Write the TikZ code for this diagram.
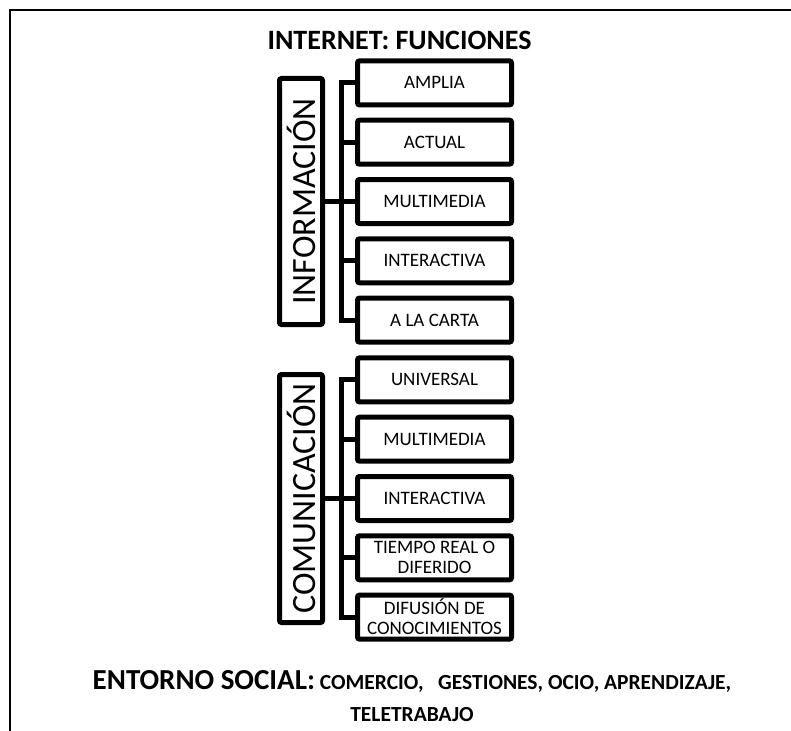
\documentclass[tikz,border=0pt]{standalone}
\usepackage{fontspec}
\usepackage{graphicx}
\setmainfont{Carlito}
\begin{document}
\begin{tikzpicture}[x=1bp,y=-1bp,
  frameline/.style={line width=2bp},
  itembox/.style={draw, line width=5bp, rounded corners=2bp,
    minimum width=154bp, minimum height=44bp, inner sep=0pt,
    align=center, font=\fontsize{19bp}{20bp}\selectfont},
  groupbox/.style={draw, line width=5bp, rounded corners=2bp,
    minimum width=43bp, inner sep=0pt,
    font=\fontsize{34bp}{40bp}\selectfont},
  bracket/.style={line width=5bp},
  titlefont/.style={font=\bfseries\fontsize{28bp}{34bp}\selectfont}]

\useasboundingbox (0,0) rectangle (791,731);

% open frame: top and left edges only
\draw[frameline] (10,731) -- (10,10) -- (791,10);

% title
\node[titlefont, anchor=base, inner sep=0pt] (title) at (399.5,50) {INTERNET: FUNCIONES};

% --- INFORMACION group ---
\node[groupbox, minimum height=246bp] (I) at (301,201.5) {\rotatebox{90}{INFORMACIÓN}};
\node[itembox] (a1) at (434.5, 82.9) {AMPLIA};
\node[itembox] (a2) at (434.5,142.2) {ACTUAL};
\node[itembox] (a3) at (434.5,201.5) {MULTIMEDIA};
\node[itembox] (a4) at (434.5,260.8) {INTERACTIVA};
\node[itembox] (a5) at (434.5,320.1) {A LA CARTA};

\coordinate (ix) at (341.5,0);
\draw[bracket] (a1.west) -- (a1.west -| ix) -- (a5.west -| ix) -- (a5.west);
\draw[bracket] (a2.west) -- (a2.west -| ix);
\draw[bracket] (a4.west) -- (a4.west -| ix);
\draw[bracket] (I.east) -- (a3.west);

% --- COMUNICACION group ---
\node[groupbox, minimum height=248bp] (C) at (301,498.5) {\rotatebox{90}{COMUNICACIÓN}};
\node[itembox] (c1) at (434.5,379.9) {UNIVERSAL};
\node[itembox] (c2) at (434.5,439.2) {MULTIMEDIA};
\node[itembox] (c3) at (434.5,498.5) {INTERACTIVA};
\node[itembox] (c4) at (434.5,557.8) {TIEMPO REAL O\\DIFERIDO};
\node[itembox] (c5) at (434.5,617.1) {DIFUSIÓN DE\\CONOCIMIENTOS};

\coordinate (cx) at (341.5,0);
\draw[bracket] (c1.west) -- (c1.west -| cx) -- (c5.west -| cx) -- (c5.west);
\draw[bracket] (c2.west) -- (c2.west -| cx);
\draw[bracket] (c4.west) -- (c4.west -| cx);
\draw[bracket] (C.east) -- (c3.west);

% social context footer
\node[anchor=base, inner sep=0pt, font=\bfseries] (soc) at (412,689)
  {{\fontsize{29bp}{34bp}\selectfont ENTORNO SOCIAL:}{\fontsize{21.5bp}{24bp}\selectfont\ COMERCIO,\ \ \ GESTIONES, OCIO, APRENDIZAJE,}};
\node[anchor=base, inner sep=0pt, font=\bfseries\fontsize{21.5bp}{24bp}\selectfont] (tele) at (412,721) {TELETRABAJO};

\end{tikzpicture}
\end{document}
